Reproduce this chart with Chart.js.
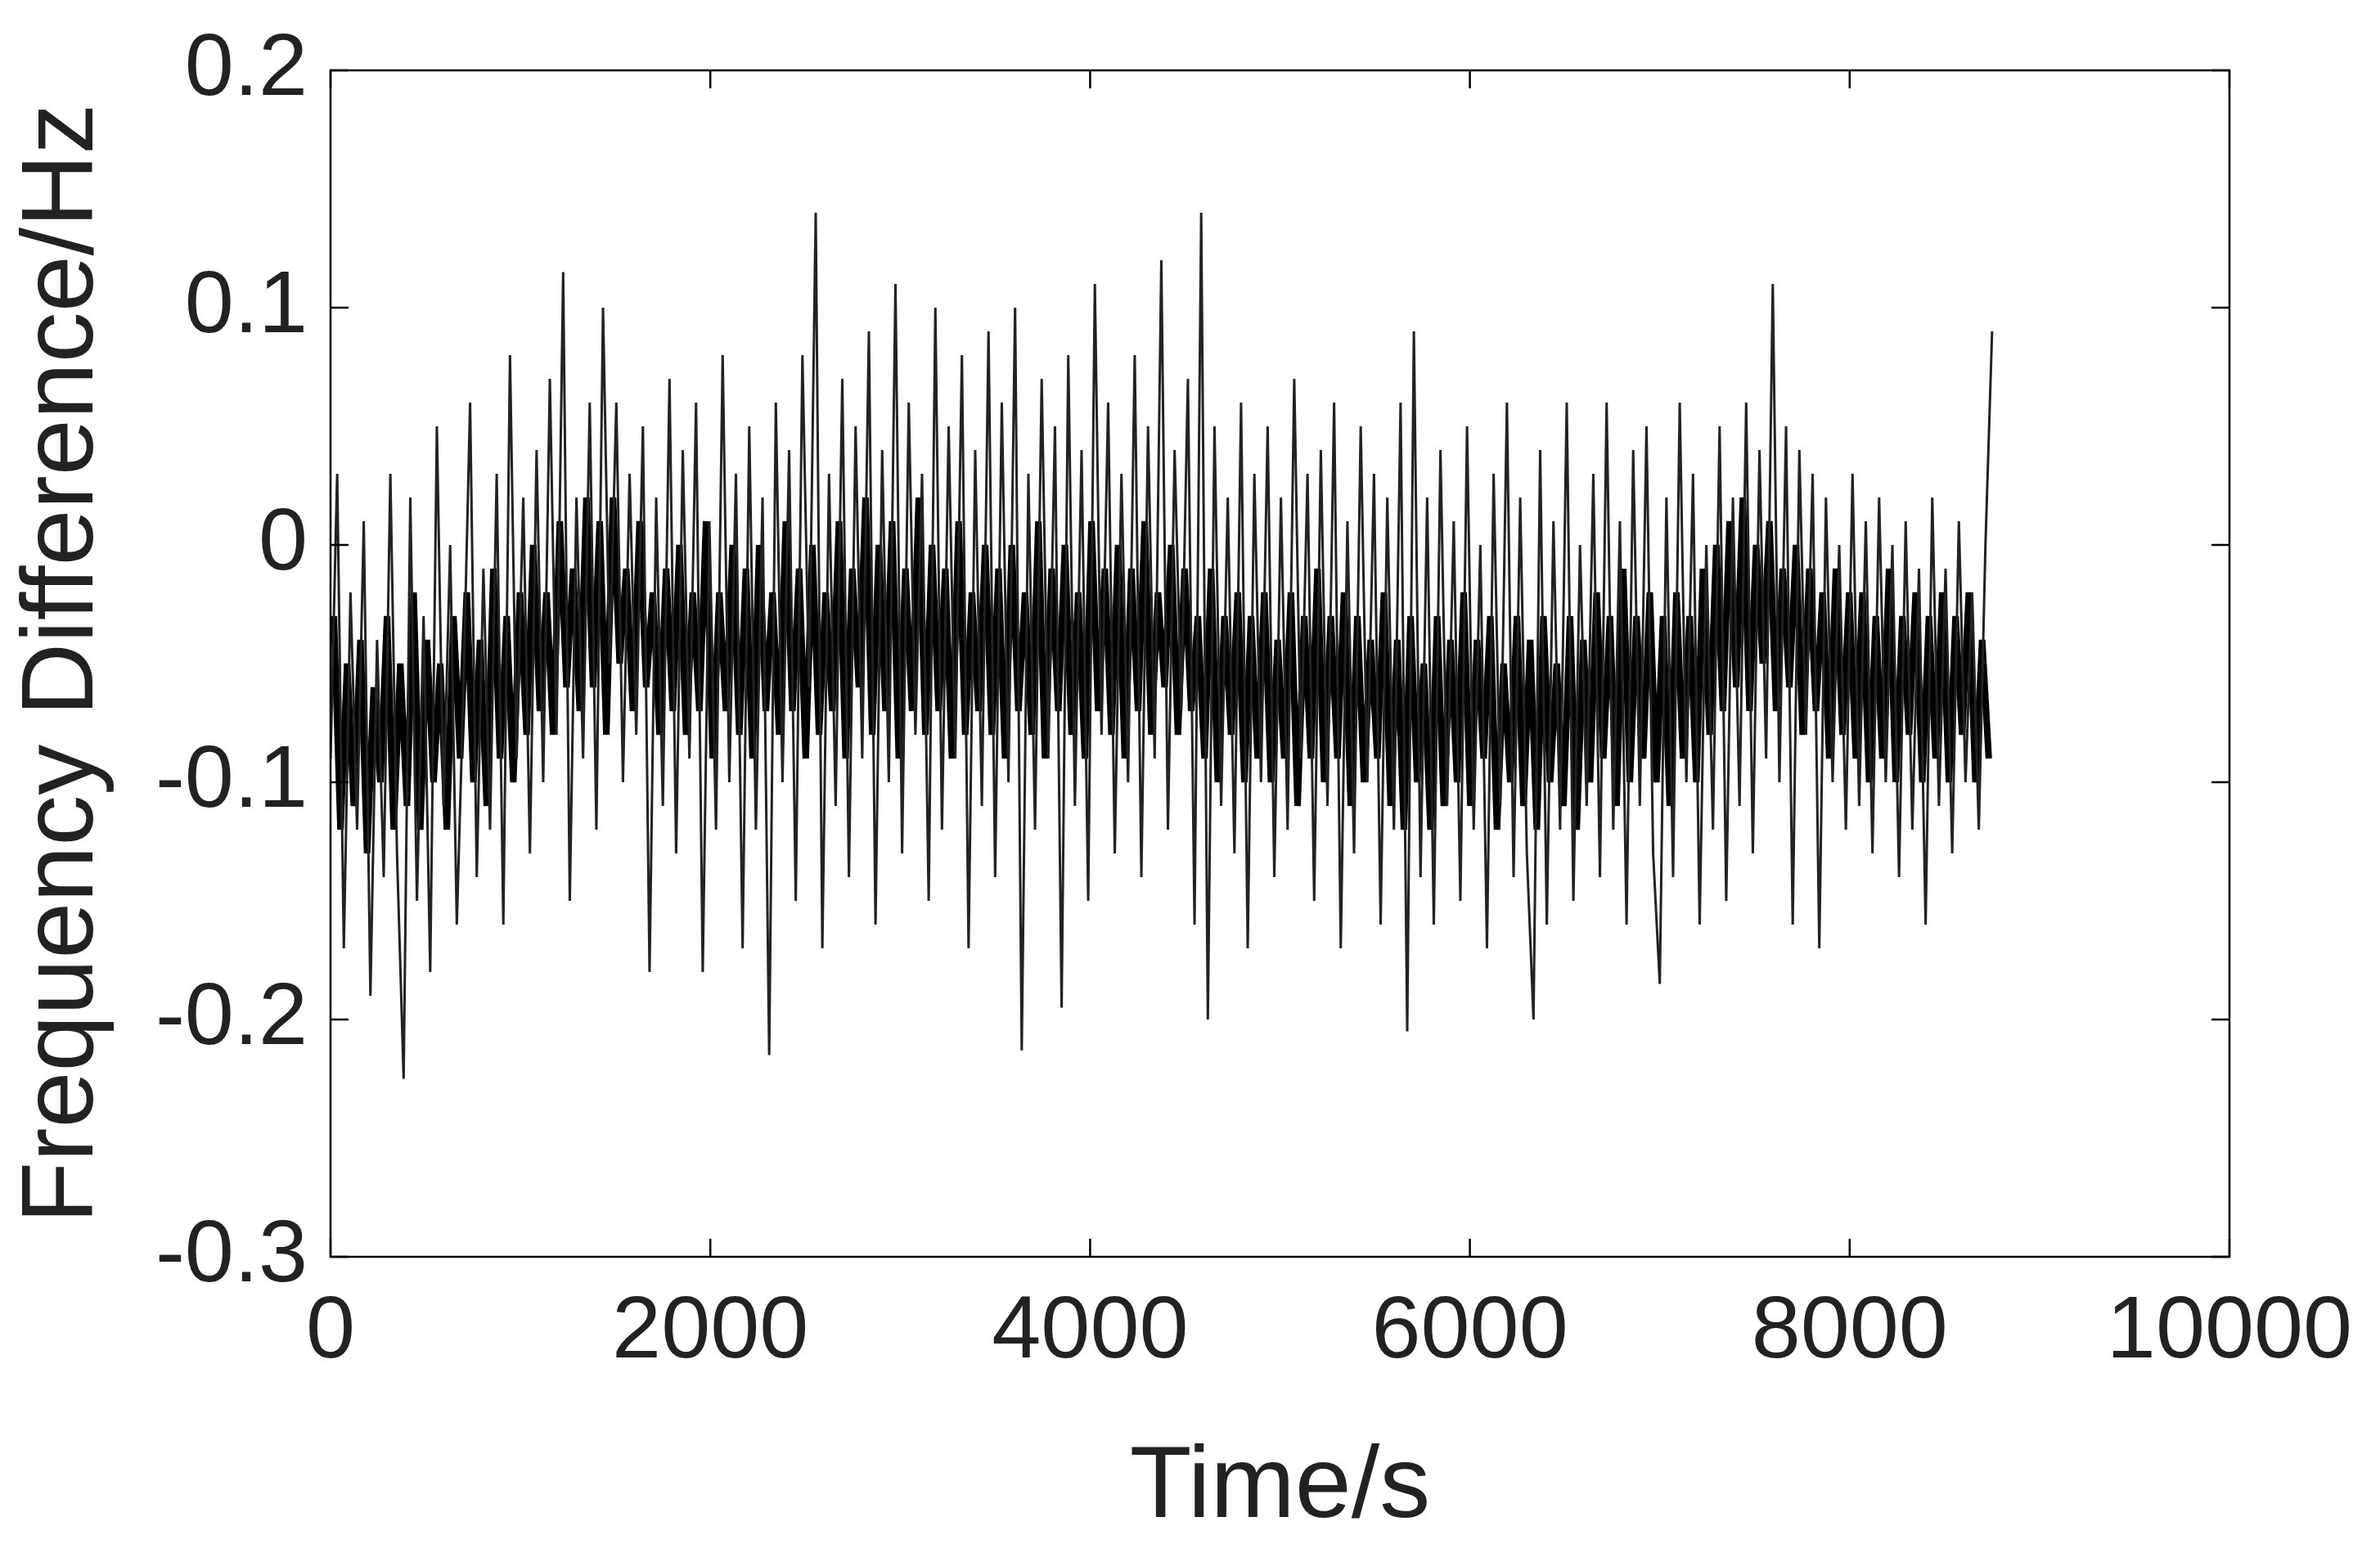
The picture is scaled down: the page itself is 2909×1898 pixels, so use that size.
<!DOCTYPE html>
<html><head><meta charset="utf-8">
<script src="https://cdn.jsdelivr.net/npm/chart.js@4/dist/chart.umd.min.js"></script>
<style>html,body{margin:0;background:#fff}#w{width:2909px;height:1898px}</style>
</head><body><div id="w"><canvas id="c"></canvas></div>
<script>
const sampleStep = 35; // seconds between samples
const freqDiff = [
-0.09,0.03,-0.17,-0.02,-0.12,0.01,-0.19,-0.04,-0.14,0.03,
-0.13,-0.225,0.02,-0.15,-0.03,-0.18,0.05,-0.11,0.0,-0.16,
-0.06,0.06,-0.14,-0.01,-0.12,0.03,-0.16,0.08,-0.09,0.02,
-0.13,0.04,-0.1,0.07,-0.08,0.115,-0.15,0.02,-0.09,0.06,
-0.12,0.1,-0.05,0.06,-0.1,0.03,-0.08,0.05,-0.18,0.02,
-0.11,0.07,-0.13,0.04,-0.09,0.06,-0.18,0.01,-0.12,0.08,
-0.1,0.03,-0.17,0.05,-0.12,0.02,-0.215,0.06,-0.1,0.04,
-0.15,0.08,-0.06,0.14,-0.17,0.03,-0.11,0.07,-0.14,0.05,
-0.09,0.09,-0.16,0.04,-0.1,0.11,-0.13,0.06,-0.08,0.03,
-0.15,0.1,-0.12,0.05,-0.09,0.08,-0.17,0.04,-0.11,0.09,
-0.14,0.06,-0.1,0.1,-0.213,0.03,-0.12,0.07,-0.09,0.05,
-0.195,0.08,-0.11,0.04,-0.15,0.11,-0.08,0.06,-0.13,0.03,
-0.1,0.08,-0.14,0.05,-0.09,0.12,-0.12,0.04,-0.07,0.07,
-0.16,0.14,-0.2,0.05,-0.11,0.02,-0.13,0.06,-0.17,0.03,
-0.1,0.05,-0.14,0.02,-0.12,0.07,-0.09,0.03,-0.15,0.04,
-0.11,0.06,-0.17,0.01,-0.13,0.05,-0.1,0.03,-0.16,0.02,
-0.12,0.06,-0.205,0.09,-0.14,0.02,-0.16,0.04,-0.11,0.01,
-0.15,0.05,-0.12,0.0,-0.17,0.03,-0.11,0.06,-0.14,0.02,
-0.13,-0.2,0.04,-0.16,0.01,-0.12,0.06,-0.15,0.0,-0.11,
0.03,-0.14,0.06,-0.12,0.01,-0.16,0.04,-0.11,0.05,-0.13,
-0.185,0.02,-0.14,0.06,-0.1,0.03,-0.16,0.0,-0.12,0.05,
-0.15,0.02,-0.11,0.06,-0.13,0.04,-0.09,0.11,-0.1,0.05,
-0.16,0.04,-0.08,0.03,-0.17,0.02,-0.1,0.0,-0.12,0.03,
-0.11,0.01,-0.13,0.02,-0.1,0.0,-0.14,0.01,-0.12,-0.01,
-0.16,0.02,-0.11,-0.01,-0.13,0.01,-0.1,-0.02,-0.12,0.0,
0.09];
// denser core of the band, sampled between the samples above
const coreDiff = [
-0.03,-0.12,-0.05,-0.11,-0.04,-0.13,-0.06,-0.1,-0.03,-0.12,
-0.05,-0.11,-0.02,-0.12,-0.04,-0.1,-0.05,-0.12,-0.03,-0.09,
-0.02,-0.1,-0.04,-0.11,-0.01,-0.09,-0.03,-0.1,-0.02,-0.08,
0.0,-0.07,-0.02,-0.08,0.01,-0.06,-0.01,-0.07,0.02,-0.06,
0.01,-0.08,0.02,-0.05,-0.01,-0.07,0.01,-0.06,-0.02,-0.08,
-0.01,-0.07,0.0,-0.08,-0.02,-0.07,0.01,-0.09,-0.02,-0.07,
0.0,-0.08,-0.01,-0.09,0.0,-0.07,-0.02,-0.08,0.01,-0.07,
-0.01,-0.09,0.0,-0.08,-0.02,-0.07,0.01,-0.09,-0.01,-0.06,
0.02,-0.08,0.0,-0.07,0.01,-0.09,-0.01,-0.07,0.02,-0.08,
0.0,-0.07,-0.01,-0.09,0.01,-0.08,-0.02,-0.07,0.0,-0.08,
-0.01,-0.09,0.0,-0.07,-0.02,-0.08,0.01,-0.09,-0.01,-0.07,
0.0,-0.08,-0.02,-0.09,0.01,-0.07,-0.01,-0.08,0.0,-0.09,
-0.01,-0.07,0.01,-0.08,-0.02,-0.06,0.0,-0.08,-0.01,-0.07,
-0.03,-0.09,-0.01,-0.1,-0.03,-0.08,-0.02,-0.1,-0.03,-0.09,
-0.02,-0.1,-0.04,-0.09,-0.02,-0.11,-0.03,-0.09,-0.01,-0.1,
-0.03,-0.09,-0.02,-0.11,-0.03,-0.1,-0.04,-0.09,-0.02,-0.11,
-0.04,-0.12,-0.03,-0.1,-0.05,-0.12,-0.03,-0.11,-0.04,-0.1,
-0.02,-0.11,-0.04,-0.09,-0.03,-0.12,-0.05,-0.1,-0.03,-0.11,
-0.04,-0.12,-0.03,-0.1,-0.05,-0.11,-0.03,-0.12,-0.04,-0.1,
-0.02,-0.09,-0.03,-0.11,-0.01,-0.1,-0.03,-0.09,-0.02,-0.1,
-0.03,-0.11,-0.02,-0.09,-0.03,-0.1,-0.01,-0.08,0.0,-0.07,
0.01,-0.06,0.02,-0.07,0.0,-0.05,0.01,-0.07,-0.01,-0.06,
0.0,-0.08,-0.01,-0.07,-0.02,-0.09,-0.01,-0.08,-0.02,-0.09,
-0.02,-0.1,-0.03,-0.09,-0.01,-0.1,-0.03,-0.08,-0.02,-0.1,
-0.03,-0.09,-0.02,-0.1,-0.03,-0.08,-0.02,-0.1,-0.04,-0.09];
const xTicks = [0,2000,4000,6000,8000,10000];
const yTicks = [0.2,0.1,0,-0.1,-0.2,-0.3];
const points = freqDiff.map((v,i)=>({x:i*sampleStep,y:v}));
const corePoints = coreDiff.map((v,i)=>({x:(i+0.5)*sampleStep,y:v}));

const boxPlugin = {id:'box',afterDraw(ch){
  const {ctx,chartArea:a,scales:{x,y}}=ch;
  ctx.save();ctx.strokeStyle='#000';ctx.lineWidth=2.5;
  ctx.strokeRect(a.left,a.top,a.right-a.left,a.bottom-a.top);
  const L=22;ctx.beginPath();
  xTicks.forEach(t=>{const p=x.getPixelForValue(t);ctx.moveTo(p,a.bottom);ctx.lineTo(p,a.bottom-L);ctx.moveTo(p,a.top);ctx.lineTo(p,a.top+L);});
  yTicks.forEach(t=>{const p=y.getPixelForValue(t);ctx.moveTo(a.left,p);ctx.lineTo(a.left+L,p);ctx.moveTo(a.right,p);ctx.lineTo(a.right-L,p);});
  ctx.stroke();ctx.restore();}};
const font={family:'"Liberation Sans", Arial, sans-serif',size:108};
new Chart(document.getElementById('c'),{
  type:'line',
  data:{datasets:[
    {data:points,borderColor:'#222',borderWidth:3,pointRadius:0,tension:0},
    {data:corePoints,borderColor:'#000',borderWidth:8,pointRadius:0,tension:0}]},
  options:{animation:false,responsive:true,maintainAspectRatio:false,
    layout:{padding:{top:86,right:184}},
    plugins:{legend:{display:false},tooltip:{enabled:false}},
    scales:{
      x:{type:'linear',min:0,max:10000,grid:{display:false},border:{display:false},
        afterBuildTicks:s=>{s.ticks=xTicks.map(v=>({value:v}));},
        afterFit:s=>{s.height=362;},
        ticks:{color:'#222',font,padding:20,maxRotation:0,callback:v=>String(v)},
        title:{display:true,text:'Time/s',color:'#222',font:{family:font.family,size:124},padding:{top:0}}},
      y:{min:-0.3,max:0.2,grid:{display:false},border:{display:false},
        afterBuildTicks:s=>{s.ticks=yTicks.map(v=>({value:v}));},
        afterFit:s=>{s.width=404;},
        ticks:{color:'#222',font,padding:20,callback:v=>v===0?'0':v.toFixed(1)},
        title:{display:true,text:'Frequency Difference/Hz',color:'#222',font:{family:font.family,size:124},padding:{bottom:0}}}
    }},
  plugins:[boxPlugin]
});
</script></body></html>
